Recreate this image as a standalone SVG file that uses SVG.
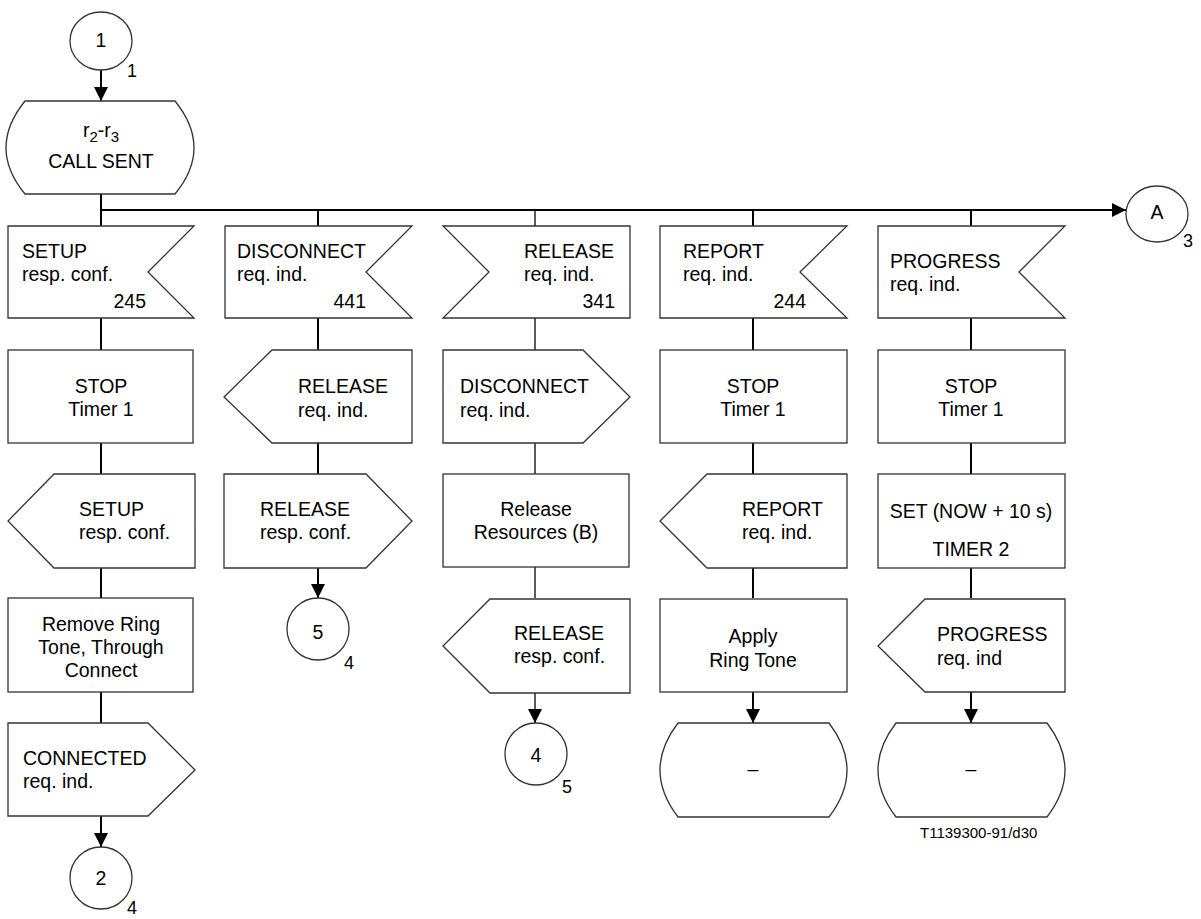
<svg xmlns="http://www.w3.org/2000/svg" width="1201" height="919" viewBox="0 0 1201 919">
<style>
text{font-family:"Liberation Sans",Arial,sans-serif;font-size:19.5px;fill:#000}
.s{fill:#fff;stroke:#333;stroke-width:1.3}
.c{fill:none;stroke:#000;stroke-width:2}
.t{fill:none;stroke:#000;stroke-width:1.3}
.m{text-anchor:middle}
.e{text-anchor:end}
.sm{font-size:15px}
.lb{font-size:18px}
.sub{font-size:15px}
</style>
<defs>
<marker id="ah" markerUnits="userSpaceOnUse" markerWidth="16" markerHeight="14" refX="14" refY="7" orient="auto">
<path d="M0,0 L14,7 L0,14 Z" fill="#000"/>
</marker>
</defs>
<g id="connectors">
<line class="c" x1="101" y1="70" x2="101" y2="101" marker-end="url(#ah)"/>
<line class="c" x1="101" y1="194" x2="101" y2="226"/>
<line class="c" x1="101" y1="210" x2="1126" y2="210" marker-end="url(#ah)"/>
<line class="c" x1="318" y1="210" x2="318" y2="226"/>
<line class="t" x1="535" y1="210" x2="535" y2="226"/>
<line class="c" x1="753" y1="210" x2="753" y2="226"/>
<line class="c" x1="971" y1="210" x2="971" y2="226"/>
<line class="c" x1="101" y1="318" x2="101" y2="350"/>
<line class="c" x1="101" y1="443" x2="101" y2="474"/>
<line class="c" x1="101" y1="568" x2="101" y2="598"/>
<line class="c" x1="101" y1="692" x2="101" y2="723"/>
<line class="c" x1="101" y1="816" x2="101" y2="847" marker-end="url(#ah)"/>
<line class="c" x1="318" y1="318" x2="318" y2="350"/>
<line class="c" x1="318" y1="443" x2="318" y2="474"/>
<line class="c" x1="318" y1="568" x2="318" y2="598" marker-end="url(#ah)"/>
<line class="t" x1="535" y1="318" x2="535" y2="350"/>
<line class="t" x1="535" y1="443" x2="535" y2="474"/>
<line class="t" x1="535" y1="567" x2="535" y2="598"/>
<line class="t" x1="535" y1="692" x2="535" y2="723" marker-end="url(#ah)"/>
<line class="c" x1="753" y1="318" x2="753" y2="350"/>
<line class="c" x1="753" y1="443" x2="753" y2="474"/>
<line class="c" x1="753" y1="568" x2="753" y2="598"/>
<line class="c" x1="753" y1="692" x2="753" y2="723" marker-end="url(#ah)"/>
<line class="c" x1="971" y1="318" x2="971" y2="350"/>
<line class="c" x1="971" y1="443" x2="971" y2="474"/>
<line class="c" x1="971" y1="568" x2="971" y2="598"/>
<line class="c" x1="971" y1="692" x2="971" y2="723" marker-end="url(#ah)"/>
</g>
<g id="conn1">
<ellipse class="s" cx="101" cy="41" rx="31" ry="29"/>
<text class="m" x="101" y="47">1</text>
<text class="lb" x="127" y="77">1</text>
</g>
<g id="state">
<path class="s" d="M25,101 L175,101 Q213,148 175,194 L25,194 Q-13,148 25,101 Z"/>
<text class="m" x="101" y="137">r<tspan class="sub" dy="5">2</tspan><tspan dy="-5">-r</tspan><tspan class="sub" dy="5">3</tspan></text>
<text class="m" x="101" y="168">CALL SENT</text>
</g>
<g id="connA">
<ellipse class="s" cx="1157" cy="214" rx="31" ry="28"/>
<text class="m" x="1157" y="219">A</text>
<text class="lb" x="1183" y="247">3</text>
</g>
<g id="in-setup">
<path class="s" d="M8,226 L194,226 L148,272 L194,318 L8,318 Z"/>
<text x="22" y="258">SETUP</text>
<text x="22" y="281">resp. conf.</text>
<text class="e" x="146" y="308">245</text>
</g>
<g id="in-disconnect">
<path class="s" d="M225,226 L412,226 L366,272 L412,318 L225,318 Z"/>
<text x="237" y="258">DISCONNECT</text>
<text x="237" y="281">req. ind.</text>
<text class="e" x="366" y="308">441</text>
</g>
<g id="in-release">
<path class="s" d="M443,226 L630,226 L630,318 L443,318 L489,272 Z"/>
<text x="524" y="258">RELEASE</text>
<text x="524" y="281">req. ind.</text>
<text class="e" x="615" y="308">341</text>
</g>
<g id="in-report">
<path class="s" d="M660,226 L847,226 L800,272 L847,318 L660,318 Z"/>
<text x="683" y="258">REPORT</text>
<text x="683" y="281">req. ind.</text>
<text class="e" x="806" y="308">244</text>
</g>
<g id="in-progress">
<path class="s" d="M878,226 L1065,226 L1019,272 L1065,318 L878,318 Z"/>
<text x="890" y="268">PROGRESS</text>
<text x="890" y="291">req. ind.</text>
</g>
<g id="task-stop1">
<rect class="s" x="8" y="350" width="185" height="93"/>
<text class="m" x="101" y="393">STOP</text>
<text class="m" x="101" y="416">Timer 1</text>
</g>
<g id="out-release1">
<path class="s" d="M272,350 L412,350 L412,443 L272,443 L224,397 Z"/>
<text x="298" y="393">RELEASE</text>
<text x="298" y="417">req. ind.</text>
</g>
<g id="out-disconnect">
<path class="s" d="M443,350 L583,350 L630,397 L583,443 L443,443 Z"/>
<text x="460" y="393">DISCONNECT</text>
<text x="460" y="417">req. ind.</text>
</g>
<g id="task-stop4">
<rect class="s" x="660" y="350" width="187" height="93"/>
<text class="m" x="753" y="393">STOP</text>
<text class="m" x="753" y="416">Timer 1</text>
</g>
<g id="task-stop5">
<rect class="s" x="878" y="350" width="187" height="93"/>
<text class="m" x="971" y="393">STOP</text>
<text class="m" x="971" y="416">Timer 1</text>
</g>
<g id="out-setup">
<path class="s" d="M54,474 L195,474 L195,568 L54,568 L8,521 Z"/>
<text x="79" y="516">SETUP</text>
<text x="79" y="539">resp. conf.</text>
</g>
<g id="out-release2">
<path class="s" d="M224,474 L366,474 L412,521 L366,568 L224,568 Z"/>
<text x="260" y="516">RELEASE</text>
<text x="260" y="539">resp. conf.</text>
</g>
<g id="task-release-res">
<rect class="s" x="443" y="474" width="186" height="93"/>
<text class="m" x="536" y="516">Release</text>
<text class="m" x="536" y="539">Resources (B)</text>
</g>
<g id="out-report">
<path class="s" d="M707,474 L847,474 L847,568 L707,568 L660,521 Z"/>
<text x="742" y="516">REPORT</text>
<text x="742" y="539">req. ind.</text>
</g>
<g id="task-set-timer">
<rect class="s" x="878" y="474" width="187" height="94"/>
<text class="m" x="971" y="518">SET (NOW + 10 s)</text>
<text class="m" x="971" y="556">TIMER 2</text>
</g>
<g id="task-remove-ring">
<rect class="s" x="8" y="598" width="185" height="94"/>
<text class="m" x="101" y="631">Remove Ring</text>
<text class="m" x="101" y="654">Tone, Through</text>
<text class="m" x="101" y="677">Connect</text>
</g>
<g id="conn5">
<circle class="s" cx="318" cy="629" r="31"/>
<text class="m" x="318" y="639">5</text>
<text class="lb" x="344" y="669">4</text>
</g>
<g id="out-release3">
<path class="s" d="M490,599 L630,599 L630,693 L490,693 L443,646 Z"/>
<text x="514" y="640">RELEASE</text>
<text x="514" y="663">resp. conf.</text>
</g>
<g id="task-apply-ring">
<rect class="s" x="660" y="599" width="187" height="93"/>
<text class="m" x="753" y="643">Apply</text>
<text class="m" x="753" y="667">Ring Tone</text>
</g>
<g id="out-progress">
<path class="s" d="M925,599 L1065,599 L1065,692 L925,692 L878,646 Z"/>
<text x="937" y="641">PROGRESS</text>
<text x="937" y="665">req. ind</text>
</g>
<g id="out-connected">
<path class="s" d="M8,723 L148,723 L195,770 L148,816 L8,816 Z"/>
<text x="23" y="765">CONNECTED</text>
<text x="23" y="788">req. ind.</text>
</g>
<g id="conn4">
<circle class="s" cx="536" cy="754" r="31"/>
<text class="m" x="536" y="762">4</text>
<text class="lb" x="562" y="793">5</text>
</g>
<g id="state-dash4">
<path class="s" d="M678,723 L829,723 Q865,770 829,817 L678,817 Q642,770 678,723 Z"/>
<text class="m" x="753" y="776">–</text>
</g>
<g id="state-dash5">
<path class="s" d="M896,723 L1047,723 Q1083,770 1047,817 L896,817 Q860,770 896,723 Z"/>
<text class="m" x="971" y="776">–</text>
</g>
<g id="conn2">
<circle class="s" cx="101" cy="878" r="31"/>
<text class="m" x="101" y="885">2</text>
<text class="lb" x="127" y="914">4</text>
</g>
<text class="sm" x="920" y="838">T1139300-91/d30</text>
</svg>
